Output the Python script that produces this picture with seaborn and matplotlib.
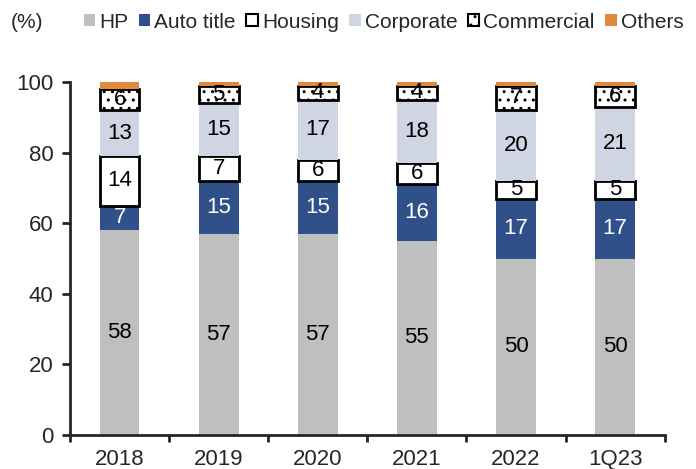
import numpy as np
import pandas as pd
import matplotlib
matplotlib.use("Agg")
import matplotlib.pyplot as plt
import seaborn as sns
from matplotlib.patches import Patch

sns.set_style("ticks")
plt.rcParams["font.family"] = ["Liberation Sans", "DejaVu Sans"]
plt.rcParams["hatch.linewidth"] = 1.0

years      = ["2018", "2019", "2020", "2021", "2022", "1Q23"]
hp         = [58, 57, 57, 55, 50, 50]
auto_title = [7, 15, 15, 16, 17, 17]
housing    = [14, 7, 6, 6, 5, 5]
corporate  = [13, 15, 17, 18, 20, 21]
commercial = [6, 5, 4, 4, 7, 6]
others     = [2, 1, 1, 1, 1, 1]

series = [
    ("HP", hp, dict(color="#BFBFBF", edgecolor="none", linewidth=0), "black"),
    ("Auto title", auto_title, dict(color="#2F5088", edgecolor="none", linewidth=0), "white"),
    ("Housing", housing, dict(color="white", edgecolor="black", linewidth=2), "black"),
    ("Corporate", corporate, dict(color="#CFD5E2", edgecolor="none", linewidth=0), "black"),
    ("Commercial", commercial, dict(color="white", edgecolor="black", linewidth=2, hatch=".."), "black"),
    ("Others", others, dict(color="#E2883D", edgecolor="none", linewidth=0), None),
]

fs = 16
fig = plt.figure(figsize=(6.96, 4.69), dpi=100)
ax = fig.add_axes([0.1006, 0.0725, 0.8544, 0.7525])

bottom = np.zeros(len(years))
for name, vals, style, tcol in series:
    df = pd.DataFrame({"year": years, "val": vals})
    sns.barplot(data=df, x="year", y="val", ax=ax, width=0.4, bottom=bottom.copy(),
                saturation=1, errorbar=None, **style)
    if tcol is not None:
        for i, v in enumerate(vals):
            ax.text(i, bottom[i] + v / 2, str(v), ha="center", va="center",
                    fontsize=fs, color=tcol)
    bottom += np.array(vals)

ax.set_ylim(0, 100)
ax.set_xlim(-0.5, len(years) - 0.5)
ax.set_yticks(range(0, 101, 20))
ax.set_xticks(np.arange(len(years)))
ax.set_xticklabels(years)
ax.set_xticks(np.arange(-0.5, len(years)), minor=True)
ax.tick_params(axis="x", which="major", length=0, labelsize=fs, pad=10)
ax.tick_params(axis="x", which="minor", length=5, width=2, direction="out")
ax.tick_params(axis="y", length=6, width=2, labelsize=fs, pad=6)
ax.set_xlabel("")
ax.set_ylabel("")
for s in ["top", "right"]:
    ax.spines[s].set_visible(False)
for s in ["left", "bottom"]:
    ax.spines[s].set_linewidth(2)

handles = []
for name, vals, style, tcol in series:
    handles.append(Patch(facecolor=style["color"], edgecolor=style["edgecolor"],
                         linewidth=min(style["linewidth"], 1.5), hatch=style.get("hatch"),
                         label=name))
fig.legend(handles=handles, loc="center left", bbox_to_anchor=(0.108, 0.953), ncol=6,
           frameon=False, fontsize=15, handlelength=0.55, handleheight=0.55,
           handletextpad=0.2, columnspacing=0.5, borderaxespad=0)
fig.text(0.015, 0.953, "(%)", fontsize=15, va="center")

fig.savefig("out.png", dpi=100)
